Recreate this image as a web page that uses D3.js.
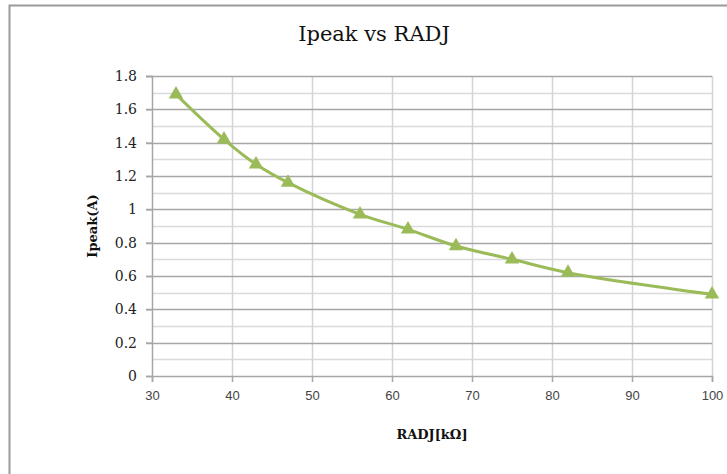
<!DOCTYPE html>
<html><head><meta charset="utf-8">
<script src="https://cdn.jsdelivr.net/npm/d3@7"></script>
<style>body{margin:0;background:#fff}svg{display:block}</style>
</head><body>
<svg id="c" width="727" height="474"></svg>
<script>
const radj = [33, 39, 43, 47, 56, 62, 68, 75, 82, 100];
const ipeak = [1.69, 1.42, 1.27, 1.16, 0.97, 0.88, 0.78, 0.70, 0.62, 0.49];
const xTicks = [30, 40, 50, 60, 70, 80, 90, 100];
const yTicks = [0, 0.2, 0.4, 0.6, 0.8, 1, 1.2, 1.4, 1.6, 1.8];
const yMinor = [0.1, 0.3, 0.5, 0.7, 0.9, 1.1, 1.3, 1.5, 1.7];
const title = "Ipeak vs RADJ", xTitle = "RADJ[kΩ]", yTitle = "Ipeak(A)";

const svg = d3.select("#c");
const L = 152, R = 712, T = 76, B = 376;
const x = d3.scaleLinear().domain([30, 100]).range([L, R]);
const y = d3.scaleLinear().domain([0, 1.8]).range([B, T]);

// outer border
svg.append("path").attr("d", `M9.5,474 L9.5,5.5 L727,5.5`).attr("fill", "none")
  .attr("stroke", "#9a9a9a").attr("stroke-width", 2);

// minor horizontal gridlines
svg.append("g").selectAll("line").data(yMinor).join("line")
  .attr("x1", L).attr("x2", R).attr("y1", d => Math.round(y(d)) + 0.5).attr("y2", d => Math.round(y(d)) + 0.5)
  .attr("stroke", "#dadada").attr("stroke-width", 1.5);
// vertical gridlines
svg.append("g").selectAll("line").data(xTicks.slice(1)).join("line")
  .attr("x1", d => Math.round(x(d)) + 0.5).attr("x2", d => Math.round(x(d)) + 0.5).attr("y1", T).attr("y2", B)
  .attr("stroke", "#d4d4d4").attr("stroke-width", 1.5);
// major horizontal gridlines (incl. tick marks to the left)
svg.append("g").selectAll("line").data(yTicks.slice(1)).join("line")
  .attr("x1", L - 6).attr("x2", R).attr("y1", d => Math.round(y(d)) + 0.5).attr("y2", d => Math.round(y(d)) + 0.5)
  .attr("stroke", "#a6a6a6").attr("stroke-width", 1.5);

// y axis
const yAxis = d3.axisLeft(y).tickValues(yTicks).tickSize(6).tickPadding(9)
  .tickFormat(d => d3.format("")(+d.toFixed(1)));
const gy = svg.append("g").attr("transform", `translate(${L},0)`).call(yAxis);
gy.select(".domain").attr("stroke", "#a6a6a6").attr("stroke-width", 1.5);
gy.selectAll(".tick line").attr("stroke", "#a6a6a6").attr("stroke-width", 1.5);
gy.selectAll(".tick text").attr("font-family", "'DejaVu Serif', serif").attr("font-size", 14).attr("fill", "#222");

// x axis
const xAxis = d3.axisBottom(x).tickValues(xTicks).tickSize(6).tickPadding(9);
const gx = svg.append("g").attr("transform", `translate(0,${B})`).call(xAxis);
gx.select(".domain").attr("stroke", "#a6a6a6").attr("stroke-width", 1.5);
gx.selectAll(".tick line").attr("stroke", "#a6a6a6").attr("stroke-width", 1.5);
gx.selectAll(".tick text").attr("font-family", "'Liberation Sans', sans-serif").attr("font-size", 13).attr("fill", "#444");

// line
const pts = radj.map((r, i) => [r, ipeak[i]]);
svg.append("path").datum(pts)
  .attr("d", d3.line().x(d => x(d[0])).y(d => y(d[1])).curve(d3.curveCatmullRom.alpha(0.5)))
  .attr("fill", "none").attr("stroke", "#9bbb59").attr("stroke-width", 3);
// markers
svg.append("g").selectAll("path").data(pts).join("path")
  .attr("transform", d => `translate(${x(d[0])},${y(d[1])})`)
  .attr("d", d3.symbol().type(d3.symbolTriangle).size(90))
  .attr("fill", "#9bbb59");

// titles
svg.append("text").attr("x", 374).attr("y", 41).attr("text-anchor", "middle")
  .attr("font-family", "'DejaVu Serif', serif").attr("font-size", 21).attr("fill", "#111").text(title);
svg.append("text").attr("x", 432).attr("y", 439).attr("text-anchor", "middle")
  .attr("font-family", "'DejaVu Serif', serif").attr("font-weight", "bold").attr("font-size", 13).attr("fill", "#111").text(xTitle);
svg.append("text").attr("transform", `translate(97,226) rotate(-90)`).attr("text-anchor", "middle")
  .attr("font-family", "'DejaVu Serif', serif").attr("font-weight", "bold").attr("font-size", 13).attr("fill", "#111").text(yTitle);
</script>
</body></html>
